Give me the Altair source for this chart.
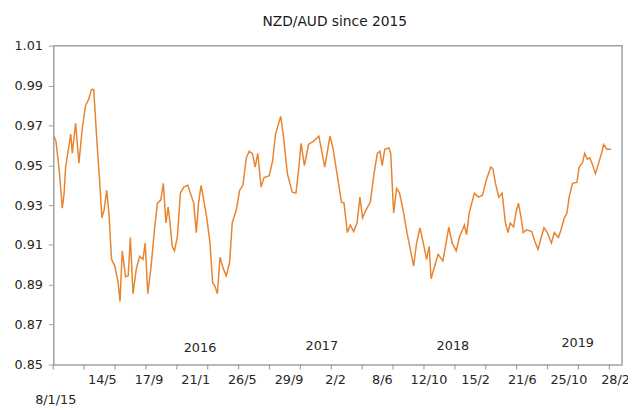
import altair as alt
import pandas as pd

# ---- data (days counted from 8 Jan 2015) ----
days = [-3, 2, 11, 19, 24, 28, 42, 46, 55, 64,
        73, 82, 90, 98, 104, 112, 121, 126, 132, 139,
        145, 152, 161, 170, 175, 181, 190, 197, 203, 210,
        219, 228, 237, 243, 250, 259, 268, 276, 285, 292,
        299, 305, 310, 316, 322, 330, 338, 347, 358, 365,
        374, 381, 387, 394, 401, 409, 418, 425, 431, 438,
        445, 454, 462, 471, 478, 489, 498, 507, 516, 524,
        533, 540, 547, 556, 564, 578, 587, 595, 609, 617,
        627, 640, 650, 657, 664, 673, 684, 697, 712, 728,
        742, 750, 764, 773, 780, 789, 797, 806, 815, 823,
        830, 839, 851, 861, 870, 877, 883, 890, 901, 906,
        914, 922, 930, 941, 950, 959, 968, 976, 985, 994,
        1003, 1010, 1015, 1025, 1034, 1047, 1054, 1063, 1072, 1083,
        1092, 1100, 1105, 1111, 1118, 1132, 1143, 1154, 1164, 1176,
        1182, 1189, 1198, 1207, 1216, 1223, 1229, 1238, 1244, 1251,
        1258, 1264, 1273, 1287, 1295, 1304, 1311, 1320, 1329, 1340,
        1348, 1359, 1366, 1375, 1382, 1388, 1397, 1409, 1415, 1424,
        1430, 1437, 1444, 1450, 1459, 1468, 1477, 1481, 1490, 1501]

rate = [0.9646, 0.962, 0.947, 0.9285, 0.936, 0.949, 0.9656, 0.956, 0.971, 0.951,
        0.9685, 0.980, 0.983, 0.988, 0.988, 0.9636, 0.939, 0.9236, 0.9275, 0.9374,
        0.926, 0.9028, 0.8994, 0.891, 0.8816, 0.907, 0.894, 0.8945, 0.9137, 0.8855,
        0.898, 0.9043, 0.9028, 0.911, 0.8855, 0.8994, 0.9176, 0.931, 0.9325, 0.9409,
        0.921, 0.929, 0.921, 0.9093, 0.907, 0.9142, 0.936, 0.939, 0.9399, 0.936,
        0.931, 0.9162, 0.931, 0.9399, 0.9325, 0.924, 0.911, 0.891, 0.8895, 0.8855,
        0.9038, 0.898, 0.8945, 0.9013, 0.921, 0.9275, 0.9374, 0.9399, 0.9537, 0.957,
        0.9557, 0.949, 0.956, 0.939, 0.9438, 0.9448, 0.952, 0.9656, 0.9745, 0.9636,
        0.9458, 0.9365, 0.936, 0.947, 0.961, 0.9498, 0.9604, 0.962, 0.9646, 0.949,
        0.9646, 0.9587, 0.9423, 0.9315, 0.931, 0.9162, 0.920, 0.9167, 0.921, 0.934,
        0.9236, 0.9275, 0.9315, 0.9458, 0.956, 0.957, 0.9498, 0.958, 0.9587, 0.956,
        0.926, 0.9384, 0.936, 0.926, 0.9162, 0.9078, 0.8994, 0.911, 0.9186, 0.911,
        0.9028, 0.9093, 0.893, 0.8994, 0.9053, 0.902, 0.9093, 0.919, 0.911, 0.907,
        0.9142, 0.9176, 0.920, 0.9152, 0.926, 0.936, 0.934, 0.935, 0.9423, 0.949,
        0.9483, 0.9409, 0.934, 0.936, 0.921, 0.9162, 0.921, 0.919, 0.926, 0.931,
        0.924, 0.9162, 0.9176, 0.9167, 0.912, 0.9078, 0.9127, 0.9186, 0.9162, 0.911,
        0.9162, 0.9137, 0.9176, 0.9236, 0.926, 0.934, 0.9409, 0.9414, 0.949, 0.9513,
        0.956, 0.953, 0.9537, 0.9508, 0.9458, 0.9513, 0.957, 0.9604, 0.958, 0.958]

label_dates = ["2015-01-08", "2015-05-14", "2015-09-17", "2016-01-21", "2016-05-26",
               "2016-09-29", "2017-02-02", "2017-06-08", "2017-10-12", "2018-02-15",
               "2018-06-21", "2018-10-25", "2019-02-28"]

year_text = ["2016", "2017", "2018", "2019"]
year_dates = ["2016-02-03", "2016-12-28", "2017-12-17", "2018-11-19"]
year_y = [0.8584, 0.8594, 0.8594, 0.8609]

y_ticks = [0.85, 0.87, 0.89, 0.91, 0.93, 0.95, 0.97, 0.99, 1.01]

# ---- build tables ----
base = pd.Timestamp("2015-01-08")
DAY_MS = 86400000
base_ms = base.value // 10**6
df = pd.DataFrame({
    "date": [(base + pd.Timedelta(days=d)).strftime("%Y-%m-%d") for d in days],
    "rate": rate,
})
years_df = pd.DataFrame({"date": year_dates, "label": year_text, "y": year_y})

label_ms = [pd.Timestamp(d).value // 10**6 for d in label_dates]
tick_df = pd.DataFrame({"t": [int(base_ms + (-5.3 + 83.43 * k) * DAY_MS) for k in range(19)]})
x_domain = [int(base_ms - 5.3 * DAY_MS), int(base_ms + 1531 * DAY_MS)]
y_domain = [y_ticks[0], y_ticks[-1]]

# plot frame (top edge and right edge), traced along the scale domain corners
frame_df = pd.DataFrame({
    "fx": [x_domain[0], x_domain[1], x_domain[1]],
    "fy": [y_domain[1], y_domain[1], y_domain[0]],
    "ord": [0, 1, 2],
})

FONT = "DejaVu Sans"
GREY = "#a0a0a0"
TXT = "#262626"
W, H = 578, 324

xscale = alt.Scale(type="utc", domain=x_domain)
yscale = alt.Scale(domain=y_domain, nice=False, zero=False)

line = alt.Chart(df).mark_line(color="#E8832E", strokeWidth=1.5).encode(
    x=alt.X("date:T", scale=xscale,
            axis=alt.Axis(values=label_ms, ticks=False, domain=True, grid=False,
                          domainColor=GREY, domainWidth=1.5,
                          title=None, orient="bottom",
                          labelExpr="datum.index == 0 ? utcFormat(datum.value, '%-d/%-m/%y') : utcFormat(datum.value, '%-d/%-m')",
                          labelPadding={"condition": {"test": "datum.index == 0", "value": 30}, "value": 9},
                          labelFont=FONT, labelFontSize=13, labelColor=TXT,
                          labelOverlap=False, labelFlush=False)),
    y=alt.Y("rate:Q", scale=yscale,
            axis=alt.Axis(values=y_ticks, format=".2f", grid=False, title=None,
                          orient="left",
                          tickSize=5, tickColor=GREY, domainColor=GREY, domainWidth=1.5,
                          labelPadding=6, labelFont=FONT, labelFontSize=13,
                          labelColor=TXT)),
)

# x-axis tick marks (the reference draws them on a different step than its labels)
xticks = alt.Chart(tick_df).mark_rule(color=GREY, strokeWidth=1.2).encode(
    x=alt.X("t:T", scale=xscale),
    y=alt.value(H),
    y2=alt.value(H + 5),
)

frame = alt.Chart(frame_df).mark_line(color=GREY, strokeWidth=1.5).encode(
    x=alt.X("fx:T", scale=xscale),
    y=alt.Y("fy:Q", scale=yscale),
    order="ord:Q",
)

years = alt.Chart(years_df).mark_text(font=FONT, fontSize=13, color=TXT,
                                      align="center", baseline="middle").encode(
    x=alt.X("date:T", scale=xscale),
    y=alt.Y("y:Q", scale=yscale),
    text="label:N",
)

chart = alt.layer(line, xticks, frame, years).properties(
    width=W,
    height=H,
    background="white",
    padding={"left": 46, "top": 35, "right": 6, "bottom": 45},
    autosize=alt.AutoSizeParams(type="none"),
    title=alt.TitleParams("NZD/AUD since 2015", font=FONT, fontSize=14,
                          fontWeight="normal", color="#1a1a1a", offset=11,
                          anchor="middle", dx=-3),
).configure_view(stroke=None)

chart.save("out.html", embed_options={"renderer": "svg", "actions": False})
